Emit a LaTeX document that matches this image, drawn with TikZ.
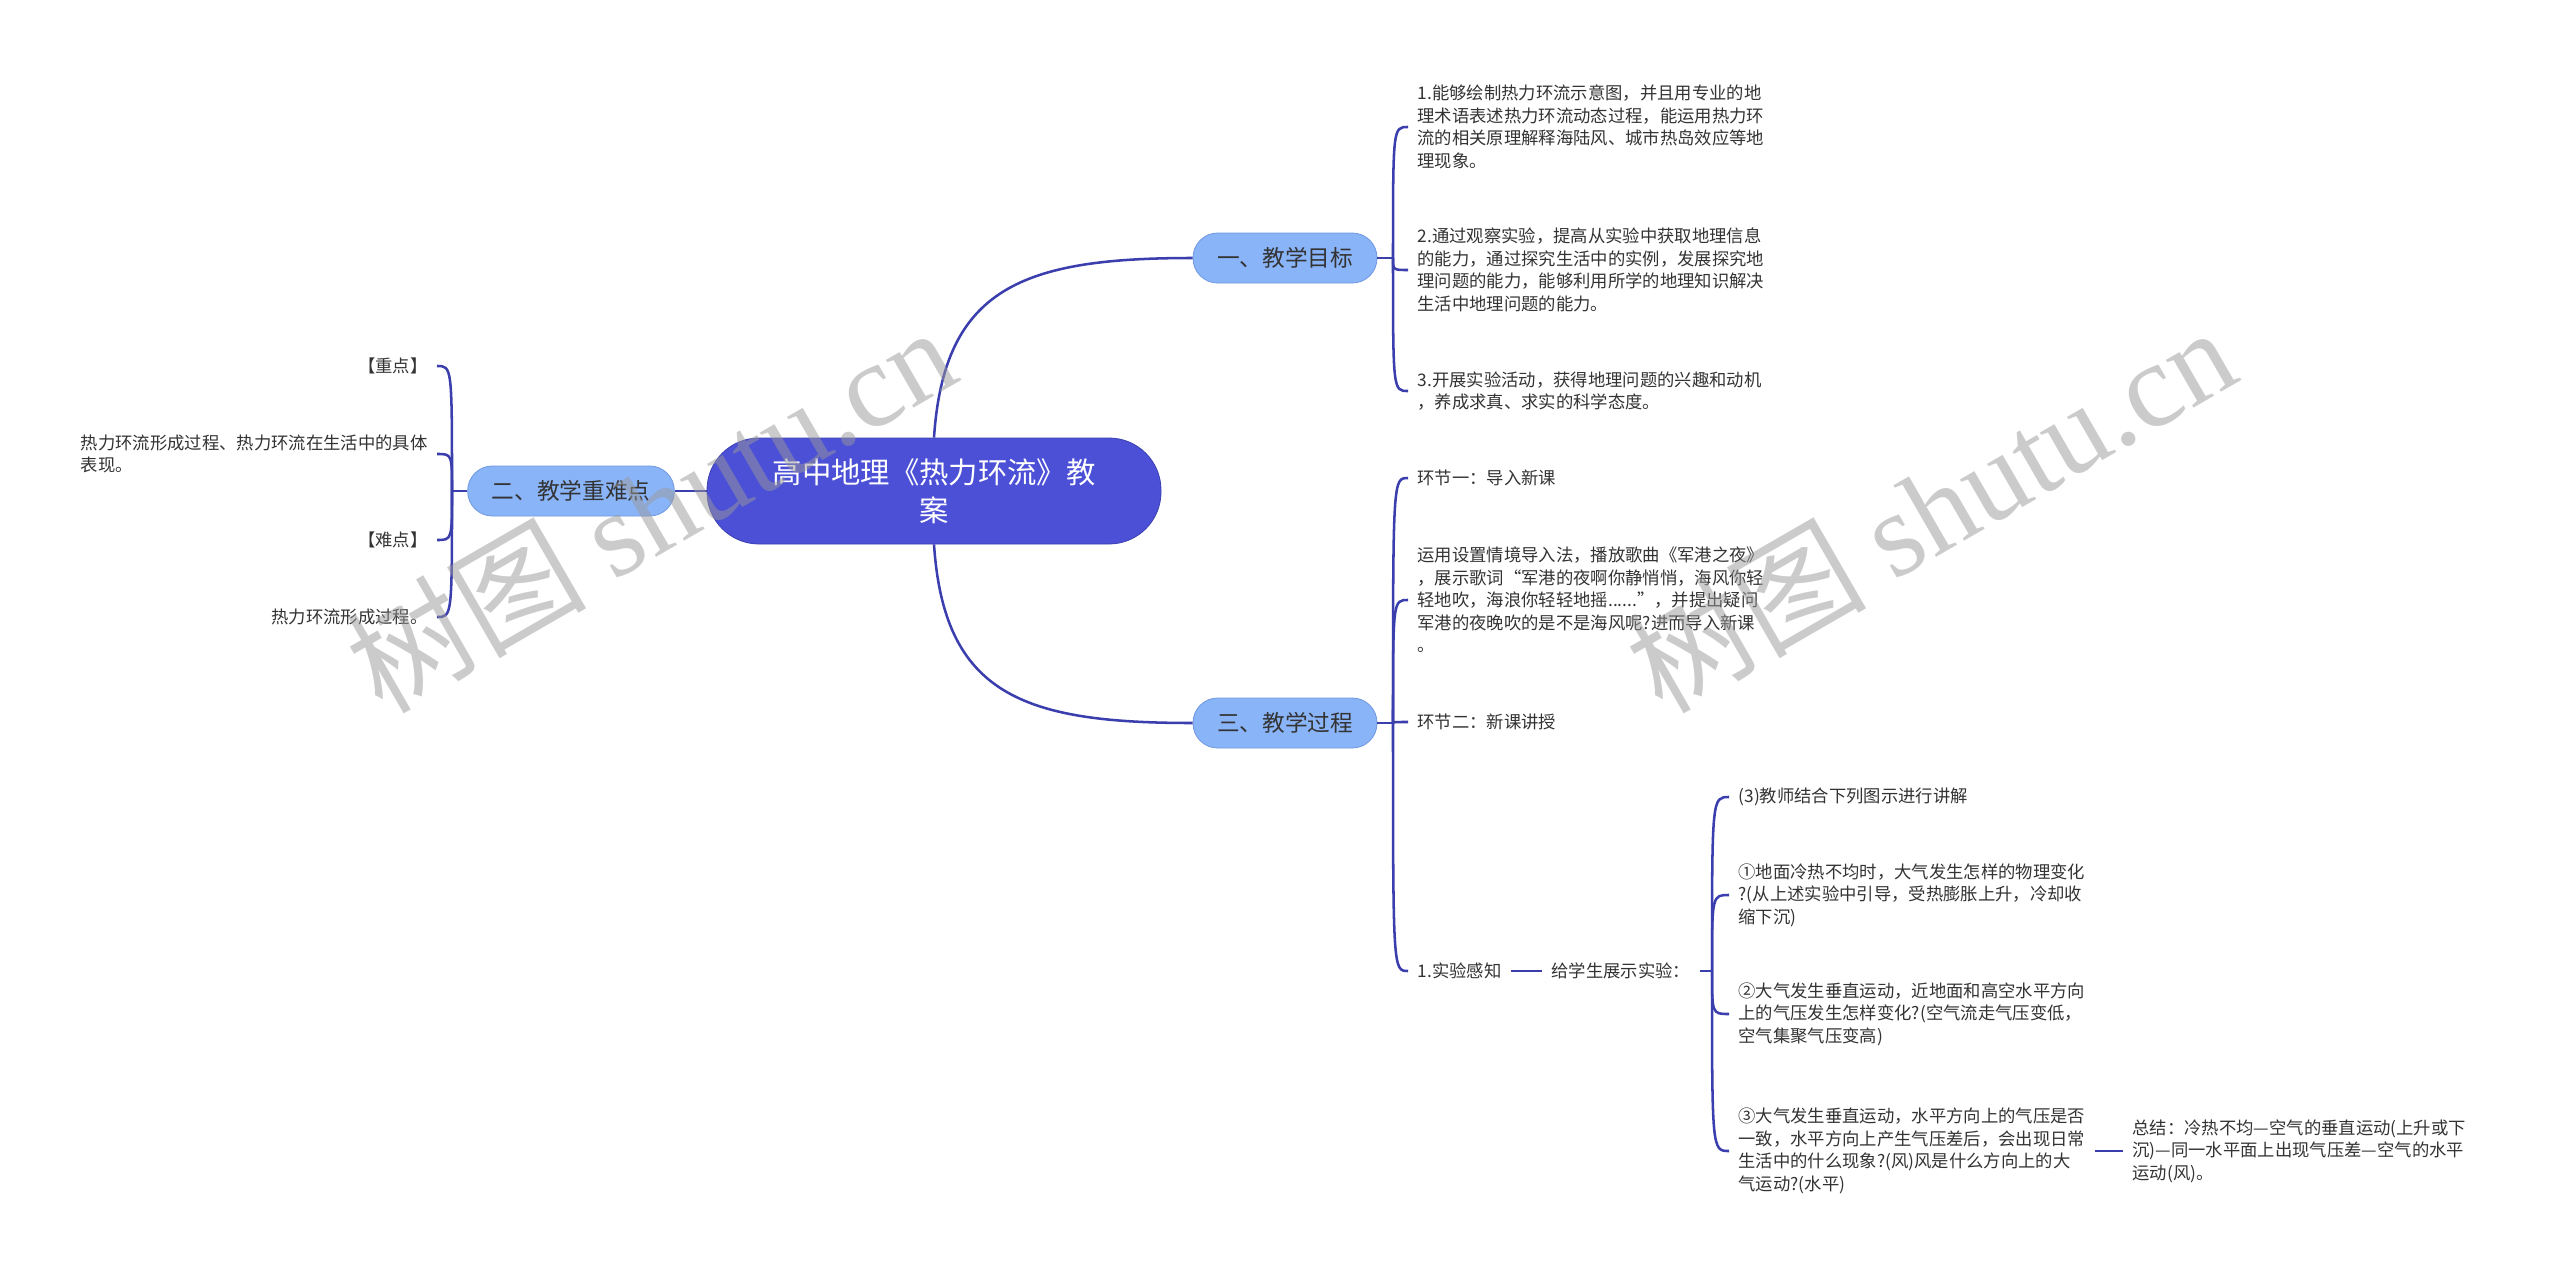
\documentclass[tikz,border=0pt]{standalone}
\usepackage{fontspec}
\setmainfont{Noto Sans CJK SC}
\newfontfamily\wmlatin{Liberation Serif}
\definecolor{rootblue}{HTML}{4B50D6}
\definecolor{rootedge}{HTML}{3A3FB0}
\definecolor{branchblue}{HTML}{8AB4F8}
\definecolor{branchedge}{HTML}{6F98E0}
\definecolor{lineblue}{HTML}{3B3FAE}
\definecolor{txt}{HTML}{333333}
\begin{document}
\begin{tikzpicture}[x=0.75pt,y=-0.75pt,
  conn/.style={draw=lineblue, line width=1.9pt},
  rootbox/.style={fill=rootblue, draw=rootedge, line width=0.6pt, rounded corners=39pt,
    minimum width=340.5pt, minimum height=79.5pt, text=white,
    font=\fontsize{22}{28.5}\selectfont, align=center},
  branchbox/.style={fill=branchblue, draw=branchedge, line width=0.6pt, rounded corners=18.5pt,
    minimum height=37.5pt, inner xsep=18pt, text=txt, font=\fontsize{17}{20}\selectfont},
  leaf/.style={text=txt, font=\fontsize{13}{16.9}\selectfont, align=left, inner xsep=7pt, inner ysep=1pt},
  wm/.style={text=black!40, opacity=0.5, font=\fontsize{90}{100}\selectfont, inner sep=0pt}]
\useasboundingbox (0,0) rectangle (2560,1274);
\fill[white] (0,0) rectangle (2560,1274);

% main nodes
\node[rootbox] (root) at (934,491) {高中地理《热力环流》教\\案};
\node[branchbox] (b1) at (1285,258) {一、教学目标};
\node[branchbox] (b3) at (1285,723) {三、教学过程};
\node[branchbox] (b2) at (571,491) {二、教学重难点};

% junctions
\coordinate (j1) at (1393,258);
\coordinate (j3) at (1393,723);
\coordinate (j2) at (452,491);
\coordinate (j4) at (1712,971);

% branch 1 leaves
\node[leaf,anchor=west] (g1) at (1408,127) {1.能够绘制热力环流示意图，并且用专业的地\\理术语表述热力环流动态过程，能运用热力环\\流的相关原理解释海陆风、城市热岛效应等地\\理现象。};
\node[leaf,anchor=west] (g2) at (1408,270) {2.通过观察实验，提高从实验中获取地理信息\\的能力，通过探究生活中的实例，发展探究地\\理问题的能力，能够利用所学的地理知识解决\\生活中地理问题的能力。};
\node[leaf,anchor=west] (g3) at (1408,391) {3.开展实验活动，获得地理问题的兴趣和动机\\，养成求真、求实的科学态度。};

% branch 3 leaves
\node[leaf,anchor=west] (p1) at (1408,478) {环节一：导入新课};
\node[leaf,anchor=west] (p2) at (1408,600) {运用设置情境导入法，播放歌曲《军港之夜》\\，展示歌词“军港的夜啊你静悄悄，海风你轻\\轻地吹，海浪你轻轻地摇......”，并提出疑问\\军港的夜晚吹的是不是海风呢?进而导入新课\\。};
\node[leaf,anchor=west] (p3) at (1408,722) {环节二：新课讲授};
\node[leaf,anchor=west] (p4) at (1408,971) {1.实验感知};
\node[leaf,anchor=west] (p5) at (1542,971) {给学生展示实验：};
\node[leaf,anchor=west] (e1) at (1729,797) {(3)教师结合下列图示进行讲解};
\node[leaf,anchor=west] (e2) at (1729,895) {①地面冷热不均时，大气发生怎样的物理变化\\?(从上述实验中引导，受热膨胀上升，冷却收\\缩下沉)};
\node[leaf,anchor=west] (e3) at (1729,1014) {②大气发生垂直运动，近地面和高空水平方向\\上的气压发生怎样变化?(空气流走气压变低，\\空气集聚气压变高)};
\node[leaf,anchor=west] (e4) at (1729,1151) {③大气发生垂直运动，水平方向上的气压是否\\一致，水平方向上产生气压差后，会出现日常\\生活中的什么现象?(风)风是什么方向上的大\\气运动?(水平)};
\node[leaf,anchor=west] (s1) at (2123,1151) {总结：冷热不均—空气的垂直运动(上升或下\\沉)—同一水平面上出现气压差—空气的水平\\运动(风)。};

% branch 2 leaves
\node[leaf,anchor=east] (k1) at (437,366) {【重点】};
\node[leaf,anchor=east] (k2) at (437,454) {热力环流形成过程、热力环流在生活中的具体\\表现。};
\node[leaf,anchor=east] (k3) at (437,540) {【难点】};
\node[leaf,anchor=east] (k4) at (437,617) {热力环流形成过程。};

% root connectors
\draw[conn] (root.west) -- (b2.east);
\draw[conn] (root.north) .. controls +(10,-150) and +(-170,0) .. (b1.west);
\draw[conn] (root.south) .. controls +(10,150) and +(-170,0) .. (b3.west);

% branch 1 bracket
\draw[conn] (b1.east) -- (j1);
\foreach \c in {g1,g2,g3}
  \draw[conn] (j1) .. controls (j1 |- \c.west) .. (\c.west);

% branch 3 bracket
\draw[conn] (b3.east) -- (j3);
\foreach \c in {p1,p2,p3,p4}
  \draw[conn] (j3) .. controls (j3 |- \c.west) .. (\c.west);
\draw[conn] (p4.east) -- (p5.west);
\draw[conn] (p5.east) -- (j4);
\foreach \c in {e1,e2,e3,e4}
  \draw[conn] (j4) .. controls (j4 |- \c.west) .. (\c.west);
\draw[conn] (e4.east) -- (s1.west);

% branch 2 bracket
\draw[conn] (b2.west) -- (j2);
\foreach \c in {k1,k2,k3,k4}
  \draw[conn] (j2) .. controls (j2 |- \c.east) .. (\c.east);

% watermarks
\node[wm, rotate=30] (wm1) at (650,508) {树图 {\wmlatin shutu.cn}};
\node[wm, rotate=30] (wm2) at (1930,508) {树图 {\wmlatin shutu.cn}};
\end{tikzpicture}
\end{document}
